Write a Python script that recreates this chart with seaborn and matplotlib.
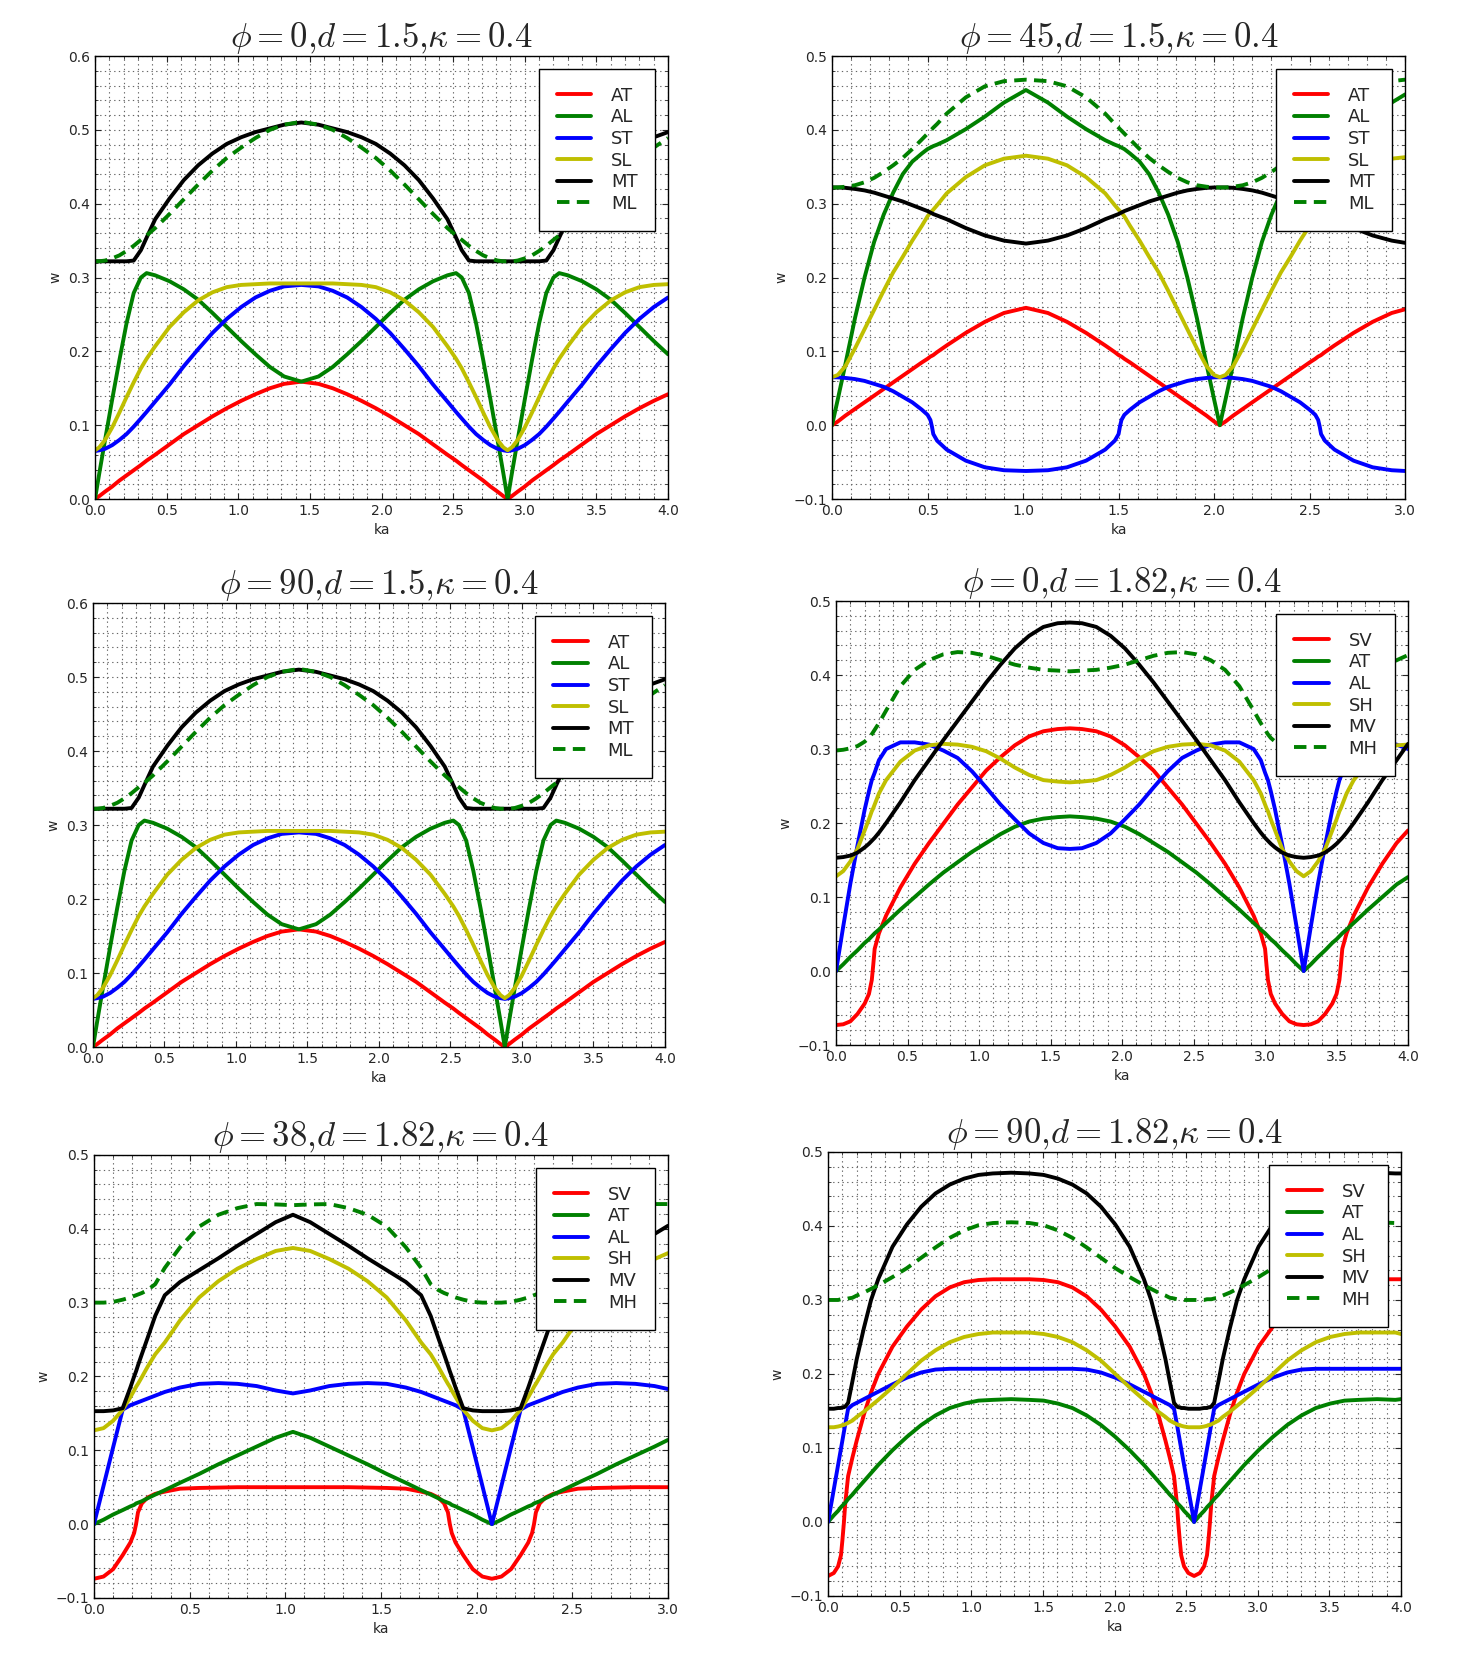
import matplotlib
matplotlib.use("Agg")
import matplotlib.pyplot as plt
from matplotlib.ticker import MultipleLocator
import seaborn as sns

# ---- d = 1.5, kappa = 0.4 (phi = 0 and phi = 90 give the same branches) ----
ka_d15 = [0.0, 0.03, 0.07, 0.12, 0.17, 0.22, 0.27, 0.32, 0.36, 0.42, 0.52, 0.62, 0.72, 0.82, 0.92, 1.02, 1.12, 1.22, 1.32, 1.44,
          1.56, 1.66, 1.76, 1.86, 1.96, 2.06, 2.16, 2.26, 2.36, 2.46, 2.52, 2.56, 2.61, 2.66, 2.71, 2.76, 2.81, 2.85, 2.88,
          2.91, 2.95, 3.0, 3.05, 3.1, 3.15, 3.2, 3.24, 3.3, 3.4, 3.5, 3.6, 3.7, 3.8, 3.9, 4.0]
at_d15 = [0.0, 0.004, 0.01, 0.017, 0.025, 0.032, 0.039, 0.046, 0.052, 0.06, 0.074, 0.088, 0.1, 0.112, 0.123, 0.133, 0.142, 0.15, 0.156, 0.159,
          0.156, 0.15, 0.142, 0.133, 0.123, 0.112, 0.1, 0.088, 0.074, 0.06, 0.052, 0.046, 0.039, 0.032, 0.025, 0.017, 0.01, 0.004, 0.0,
          0.004, 0.01, 0.017, 0.025, 0.032, 0.039, 0.046, 0.052, 0.06, 0.074, 0.088, 0.1, 0.112, 0.123, 0.133, 0.142]
al_d15 = [0.0, 0.035, 0.08, 0.135, 0.188, 0.238, 0.279, 0.3, 0.306, 0.303, 0.295, 0.284, 0.27, 0.252, 0.233, 0.214, 0.196, 0.179, 0.166, 0.159,
          0.166, 0.179, 0.196, 0.214, 0.233, 0.252, 0.27, 0.284, 0.295, 0.303, 0.306, 0.3, 0.279, 0.238, 0.188, 0.135, 0.08, 0.035, 0.0,
          0.035, 0.08, 0.135, 0.188, 0.238, 0.279, 0.3, 0.306, 0.303, 0.295, 0.284, 0.27, 0.252, 0.233, 0.214, 0.196]
st_d15 = [0.065, 0.066, 0.068, 0.073, 0.08, 0.088, 0.098, 0.109, 0.118, 0.132, 0.155, 0.18, 0.203, 0.225, 0.244, 0.26, 0.273, 0.282, 0.288, 0.29,
          0.288, 0.282, 0.273, 0.26, 0.244, 0.225, 0.203, 0.18, 0.155, 0.132, 0.118, 0.109, 0.098, 0.088, 0.08, 0.073, 0.068, 0.066, 0.065,
          0.066, 0.068, 0.073, 0.08, 0.088, 0.098, 0.109, 0.118, 0.132, 0.155, 0.18, 0.203, 0.225, 0.244, 0.26, 0.273]
sl_d15 = [0.066, 0.07, 0.08, 0.097, 0.117, 0.138, 0.158, 0.177, 0.19, 0.207, 0.233, 0.253, 0.269, 0.28, 0.287, 0.29, 0.291, 0.292, 0.292, 0.292,
          0.292, 0.292, 0.291, 0.29, 0.287, 0.28, 0.269, 0.253, 0.233, 0.207, 0.19, 0.177, 0.158, 0.138, 0.117, 0.097, 0.08, 0.07, 0.066,
          0.07, 0.08, 0.097, 0.117, 0.138, 0.158, 0.177, 0.19, 0.207, 0.233, 0.253, 0.269, 0.28, 0.287, 0.29, 0.291]
mt_d15 = [0.322, 0.322, 0.322, 0.322, 0.322, 0.322, 0.323, 0.337, 0.354, 0.379, 0.407, 0.432, 0.452, 0.468, 0.481, 0.49, 0.497, 0.502, 0.507, 0.51,
          0.507, 0.502, 0.497, 0.49, 0.481, 0.468, 0.452, 0.432, 0.407, 0.379, 0.354, 0.337, 0.323, 0.322, 0.322, 0.322, 0.322, 0.322, 0.322,
          0.322, 0.322, 0.322, 0.322, 0.322, 0.323, 0.337, 0.354, 0.379, 0.407, 0.432, 0.452, 0.468, 0.481, 0.49, 0.497]
ml_d15 = [0.322, 0.322, 0.323, 0.326, 0.33, 0.336, 0.343, 0.351, 0.357, 0.367, 0.386, 0.406, 0.426, 0.445, 0.462, 0.476, 0.489, 0.5, 0.507, 0.511,
          0.507, 0.5, 0.489, 0.476, 0.462, 0.445, 0.426, 0.406, 0.386, 0.367, 0.357, 0.351, 0.343, 0.336, 0.33, 0.326, 0.323, 0.322, 0.322,
          0.322, 0.323, 0.326, 0.33, 0.336, 0.343, 0.351, 0.357, 0.367, 0.386, 0.406, 0.426, 0.445, 0.462, 0.476, 0.489]

# ---- phi = 45, d = 1.5 ----
ka_p45 = [0.0, 0.03, 0.07, 0.12, 0.17, 0.22, 0.27, 0.32, 0.37, 0.42, 0.47, 0.5, 0.515, 0.523, 0.53, 0.55, 0.6, 0.7, 0.8, 0.9, 1.015,
          1.13, 1.23, 1.33, 1.43, 1.48, 1.5, 1.507, 1.515, 1.53, 1.56, 1.61, 1.66, 1.71, 1.76, 1.81, 1.86, 1.91, 1.96, 2.0, 2.03,
          2.06, 2.1, 2.15, 2.2, 2.25, 2.3, 2.35, 2.4, 2.45, 2.5, 2.53, 2.545, 2.553, 2.56, 2.58, 2.63, 2.73, 2.83, 2.93, 3.0]
at_p45 = [0.0, 0.005, 0.013, 0.022, 0.031, 0.04, 0.049, 0.058, 0.067, 0.076, 0.085, 0.09, 0.093, 0.094, 0.095, 0.099, 0.108, 0.125, 0.14, 0.152, 0.159,
          0.152, 0.14, 0.125, 0.108, 0.099, 0.095, 0.094, 0.093, 0.09, 0.085, 0.076, 0.067, 0.058, 0.049, 0.04, 0.031, 0.022, 0.013, 0.005, 0.0,
          0.005, 0.013, 0.022, 0.031, 0.04, 0.049, 0.058, 0.067, 0.076, 0.085, 0.09, 0.093, 0.094, 0.095, 0.099, 0.108, 0.125, 0.14, 0.152, 0.157]
al_p45 = [0.0, 0.035, 0.083, 0.145, 0.2, 0.248, 0.285, 0.315, 0.34, 0.357, 0.368, 0.374, 0.376, 0.377, 0.378, 0.38, 0.386, 0.401, 0.418, 0.437, 0.454,
          0.437, 0.418, 0.401, 0.386, 0.38, 0.378, 0.377, 0.376, 0.374, 0.368, 0.357, 0.34, 0.315, 0.285, 0.248, 0.2, 0.145, 0.083, 0.035, 0.0,
          0.035, 0.083, 0.145, 0.2, 0.248, 0.285, 0.315, 0.34, 0.357, 0.368, 0.374, 0.376, 0.377, 0.378, 0.38, 0.386, 0.401, 0.418, 0.437, 0.448]
st_p45 = [0.065, 0.0648, 0.064, 0.0625, 0.06, 0.056, 0.052, 0.046, 0.0385, 0.031, 0.021, 0.014, 0.007, -0.002, -0.012, -0.021, -0.033, -0.048, -0.057, -0.061, -0.062,
          -0.061, -0.057, -0.048, -0.033, -0.021, -0.012, -0.002, 0.007, 0.014, 0.021, 0.031, 0.0385, 0.046, 0.052, 0.056, 0.06, 0.0625, 0.064, 0.0648, 0.065,
          0.0648, 0.064, 0.0625, 0.06, 0.056, 0.052, 0.046, 0.0385, 0.031, 0.021, 0.014, 0.007, -0.002, -0.012, -0.021, -0.033, -0.048, -0.057, -0.061, -0.062]
sl_p45 = [0.065, 0.068, 0.08, 0.104, 0.13, 0.156, 0.182, 0.207, 0.228, 0.25, 0.27, 0.283, 0.288, 0.29, 0.292, 0.298, 0.314, 0.336, 0.352, 0.361, 0.365,
          0.361, 0.352, 0.336, 0.314, 0.298, 0.292, 0.29, 0.288, 0.283, 0.27, 0.25, 0.228, 0.207, 0.182, 0.156, 0.13, 0.104, 0.08, 0.068, 0.065,
          0.068, 0.08, 0.104, 0.13, 0.156, 0.182, 0.207, 0.228, 0.25, 0.27, 0.283, 0.288, 0.29, 0.292, 0.298, 0.314, 0.336, 0.352, 0.361, 0.363]
mt_p45 = [0.322, 0.322, 0.3215, 0.32, 0.318, 0.315, 0.311, 0.307, 0.303, 0.298, 0.293, 0.29, 0.288, 0.287, 0.286, 0.284, 0.279, 0.267, 0.257, 0.25, 0.246,
          0.25, 0.257, 0.267, 0.279, 0.284, 0.286, 0.287, 0.288, 0.29, 0.293, 0.298, 0.303, 0.307, 0.311, 0.315, 0.318, 0.32, 0.3215, 0.322, 0.322,
          0.322, 0.3215, 0.32, 0.318, 0.315, 0.311, 0.307, 0.303, 0.298, 0.293, 0.29, 0.288, 0.287, 0.286, 0.284, 0.279, 0.267, 0.257, 0.25, 0.247]
ml_p45 = [0.322, 0.322, 0.323, 0.325, 0.329, 0.335, 0.343, 0.352, 0.362, 0.374, 0.387, 0.395, 0.399, 0.401, 0.403, 0.408, 0.422, 0.444, 0.459, 0.466, 0.468,
          0.466, 0.459, 0.444, 0.422, 0.408, 0.403, 0.401, 0.399, 0.395, 0.387, 0.374, 0.362, 0.352, 0.343, 0.335, 0.329, 0.325, 0.323, 0.322, 0.322,
          0.322, 0.323, 0.325, 0.329, 0.335, 0.343, 0.352, 0.362, 0.374, 0.387, 0.395, 0.399, 0.401, 0.403, 0.408, 0.422, 0.444, 0.459, 0.466, 0.468]

# ---- phi = 0, d = 1.82 ----
ka_p0 = [0.0, 0.05, 0.1, 0.15, 0.2, 0.23, 0.25, 0.26, 0.27, 0.3, 0.35, 0.45, 0.55, 0.65, 0.75, 0.85, 0.95, 1.05, 1.15, 1.25, 1.35, 1.45, 1.55, 1.635,
         1.72, 1.82, 1.92, 2.02, 2.12, 2.22, 2.32, 2.42, 2.52, 2.62, 2.72, 2.82, 2.92, 2.97, 3.0, 3.01, 3.02, 3.04, 3.07, 3.12, 3.17, 3.22, 3.27,
         3.32, 3.37, 3.42, 3.47, 3.5, 3.52, 3.53, 3.54, 3.57, 3.62, 3.72, 3.82, 3.92, 4.0]
sv_p0 = [-0.073, -0.072, -0.068, -0.058, -0.044, -0.031, -0.012, 0.008, 0.03, 0.051, 0.075, 0.113, 0.145, 0.173, 0.199, 0.225, 0.248, 0.271, 0.289, 0.305, 0.317, 0.324, 0.327, 0.328,
         0.327, 0.324, 0.317, 0.305, 0.289, 0.271, 0.248, 0.225, 0.199, 0.173, 0.145, 0.113, 0.075, 0.051, 0.03, 0.008, -0.012, -0.031, -0.044, -0.058, -0.068, -0.072, -0.073,
         -0.072, -0.068, -0.058, -0.044, -0.031, -0.012, 0.008, 0.03, 0.051, 0.075, 0.113, 0.145, 0.173, 0.19]
at_p0 = [0.0, 0.009, 0.019, 0.028, 0.038, 0.043, 0.047, 0.049, 0.051, 0.056, 0.065, 0.083, 0.1, 0.117, 0.133, 0.147, 0.161, 0.173, 0.185, 0.195, 0.202, 0.206, 0.208, 0.209,
         0.208, 0.206, 0.202, 0.195, 0.185, 0.173, 0.161, 0.147, 0.133, 0.117, 0.1, 0.083, 0.065, 0.056, 0.051, 0.049, 0.047, 0.043, 0.038, 0.028, 0.019, 0.009, 0.0,
         0.009, 0.019, 0.028, 0.038, 0.043, 0.047, 0.049, 0.051, 0.056, 0.065, 0.083, 0.1, 0.117, 0.127]
al_p0 = [0.0, 0.06, 0.118, 0.17, 0.218, 0.243, 0.258, 0.263, 0.268, 0.285, 0.3, 0.309, 0.309, 0.306, 0.298, 0.288, 0.27, 0.248, 0.225, 0.205, 0.186, 0.173, 0.166, 0.165,
         0.166, 0.173, 0.186, 0.205, 0.225, 0.248, 0.27, 0.288, 0.298, 0.306, 0.309, 0.309, 0.3, 0.285, 0.268, 0.263, 0.258, 0.243, 0.218, 0.17, 0.118, 0.06, 0.0,
         0.06, 0.118, 0.17, 0.218, 0.243, 0.258, 0.263, 0.268, 0.285, 0.3, 0.309, 0.309, 0.306, 0.3]
sh_p0 = [0.128, 0.135, 0.148, 0.165, 0.19, 0.205, 0.216, 0.22, 0.225, 0.24, 0.258, 0.283, 0.298, 0.305, 0.307, 0.306, 0.303, 0.297, 0.287, 0.275, 0.265, 0.258, 0.256, 0.255,
         0.256, 0.258, 0.265, 0.275, 0.287, 0.297, 0.303, 0.306, 0.307, 0.305, 0.298, 0.283, 0.258, 0.24, 0.225, 0.22, 0.216, 0.205, 0.19, 0.165, 0.148, 0.135, 0.128,
         0.135, 0.148, 0.165, 0.19, 0.205, 0.216, 0.22, 0.225, 0.24, 0.258, 0.283, 0.298, 0.305, 0.306]
mv_p0 = [0.153, 0.154, 0.156, 0.16, 0.167, 0.172, 0.176, 0.178, 0.18, 0.187, 0.2, 0.228, 0.258, 0.285, 0.312, 0.338, 0.364, 0.39, 0.414, 0.436, 0.453, 0.465, 0.47, 0.471,
         0.47, 0.465, 0.453, 0.436, 0.414, 0.39, 0.364, 0.338, 0.312, 0.285, 0.258, 0.228, 0.2, 0.187, 0.18, 0.178, 0.176, 0.172, 0.167, 0.16, 0.156, 0.154, 0.153,
         0.154, 0.156, 0.16, 0.167, 0.172, 0.176, 0.178, 0.18, 0.187, 0.2, 0.228, 0.258, 0.285, 0.307]
mh_p0 = [0.298, 0.299, 0.301, 0.304, 0.31, 0.315, 0.32, 0.323, 0.326, 0.335, 0.352, 0.385, 0.407, 0.42, 0.428, 0.431, 0.43, 0.426, 0.42, 0.414, 0.41, 0.407, 0.406, 0.405,
         0.406, 0.407, 0.41, 0.414, 0.42, 0.426, 0.43, 0.431, 0.428, 0.42, 0.407, 0.385, 0.352, 0.335, 0.326, 0.323, 0.32, 0.315, 0.31, 0.304, 0.301, 0.299, 0.298,
         0.299, 0.301, 0.304, 0.31, 0.315, 0.32, 0.323, 0.326, 0.335, 0.352, 0.385, 0.407, 0.42, 0.427]

# ---- phi = 38, d = 1.82 ----
ka_p38 = [0.0, 0.05, 0.1, 0.15, 0.19, 0.21, 0.22, 0.23, 0.25, 0.28, 0.32, 0.37, 0.45, 0.55, 0.65, 0.75, 0.85, 0.95, 1.04,
          1.13, 1.23, 1.33, 1.43, 1.53, 1.63, 1.71, 1.76, 1.8, 1.83, 1.85, 1.86, 1.87, 1.89, 1.93, 1.98, 2.03, 2.08,
          2.13, 2.18, 2.23, 2.27, 2.29, 2.3, 2.31, 2.33, 2.36, 2.4, 2.45, 2.53, 2.63, 2.73, 2.83, 2.93, 3.0]
sv_p38 = [-0.074, -0.071, -0.061, -0.042, -0.025, -0.012, 0.0, 0.016, 0.028, 0.036, 0.041, 0.044, 0.048, 0.049, 0.0495, 0.05, 0.05, 0.05, 0.05,
          0.05, 0.05, 0.05, 0.0495, 0.049, 0.048, 0.044, 0.041, 0.036, 0.028, 0.016, 0.0, -0.012, -0.025, -0.042, -0.061, -0.071, -0.074,
          -0.071, -0.061, -0.042, -0.025, -0.012, 0.0, 0.016, 0.028, 0.036, 0.041, 0.044, 0.048, 0.049, 0.0495, 0.05, 0.05, 0.05]
at_p38 = [0.0, 0.006, 0.013, 0.019, 0.024, 0.026, 0.028, 0.029, 0.031, 0.035, 0.04, 0.046, 0.056, 0.068, 0.081, 0.093, 0.105, 0.117, 0.125,
          0.117, 0.105, 0.093, 0.081, 0.068, 0.056, 0.046, 0.04, 0.035, 0.031, 0.029, 0.028, 0.026, 0.024, 0.019, 0.013, 0.006, 0.0,
          0.006, 0.013, 0.019, 0.024, 0.026, 0.028, 0.029, 0.031, 0.035, 0.04, 0.046, 0.056, 0.068, 0.081, 0.093, 0.105, 0.114]
al_p38 = [0.0, 0.052, 0.104, 0.155, 0.161, 0.163, 0.164, 0.165, 0.167, 0.17, 0.174, 0.179, 0.185, 0.19, 0.191, 0.19, 0.187, 0.181, 0.177,
          0.181, 0.187, 0.19, 0.191, 0.19, 0.185, 0.179, 0.174, 0.17, 0.167, 0.165, 0.164, 0.163, 0.161, 0.155, 0.104, 0.052, 0.0,
          0.052, 0.104, 0.155, 0.161, 0.163, 0.164, 0.165, 0.167, 0.17, 0.174, 0.179, 0.185, 0.19, 0.191, 0.19, 0.187, 0.183]
sh_p38 = [0.127, 0.13, 0.14, 0.155, 0.172, 0.181, 0.186, 0.19, 0.199, 0.213, 0.23, 0.246, 0.276, 0.307, 0.329, 0.346, 0.359, 0.37, 0.374,
          0.37, 0.359, 0.346, 0.329, 0.307, 0.276, 0.246, 0.23, 0.213, 0.199, 0.19, 0.186, 0.181, 0.172, 0.155, 0.14, 0.13, 0.127,
          0.13, 0.14, 0.155, 0.172, 0.181, 0.186, 0.19, 0.199, 0.213, 0.23, 0.246, 0.276, 0.307, 0.329, 0.346, 0.359, 0.367]
mv_p38 = [0.153, 0.153, 0.154, 0.157, 0.185, 0.2, 0.207, 0.215, 0.23, 0.252, 0.282, 0.31, 0.328, 0.344, 0.36, 0.377, 0.393, 0.409, 0.419,
          0.409, 0.393, 0.377, 0.36, 0.344, 0.328, 0.31, 0.282, 0.252, 0.23, 0.215, 0.207, 0.2, 0.185, 0.157, 0.154, 0.153, 0.153,
          0.153, 0.154, 0.157, 0.185, 0.2, 0.207, 0.215, 0.23, 0.252, 0.282, 0.31, 0.328, 0.344, 0.36, 0.377, 0.393, 0.404]
mh_p38 = [0.3, 0.3, 0.301, 0.304, 0.307, 0.309, 0.31, 0.311, 0.313, 0.317, 0.325, 0.347, 0.375, 0.403, 0.419, 0.428, 0.4335, 0.433, 0.432,
          0.433, 0.4335, 0.428, 0.419, 0.403, 0.375, 0.347, 0.325, 0.317, 0.313, 0.311, 0.31, 0.309, 0.307, 0.304, 0.301, 0.3, 0.3,
          0.3, 0.301, 0.304, 0.307, 0.309, 0.31, 0.311, 0.313, 0.317, 0.325, 0.347, 0.375, 0.403, 0.419, 0.428, 0.4335, 0.4335]

# ---- phi = 90, d = 1.82 ----
ka_p90 = [0.0, 0.04, 0.07, 0.09, 0.1, 0.11, 0.12, 0.14, 0.17, 0.2, 0.25, 0.3, 0.35, 0.45, 0.55, 0.65, 0.75, 0.85, 0.95, 1.05, 1.15, 1.278,
          1.405, 1.505, 1.605, 1.705, 1.805, 1.905, 2.005, 2.105, 2.205, 2.255, 2.305, 2.355, 2.385, 2.415, 2.435, 2.445, 2.455, 2.465, 2.485, 2.515, 2.555,
          2.595, 2.625, 2.645, 2.655, 2.665, 2.675, 2.695, 2.725, 2.755, 2.805, 2.855, 2.905, 3.005, 3.105, 3.205, 3.305, 3.405, 3.505, 3.605, 3.705, 3.833,
          3.96, 4.0]
sv_p90 = [-0.073, -0.069, -0.06, -0.045, -0.025, -0.002, 0.025, 0.062, 0.087, 0.11, 0.145, 0.175, 0.2, 0.237, 0.264, 0.287, 0.305, 0.317, 0.324, 0.327, 0.328, 0.328,
          0.328, 0.327, 0.324, 0.317, 0.305, 0.287, 0.264, 0.237, 0.2, 0.175, 0.145, 0.11, 0.087, 0.062, 0.025, -0.002, -0.025, -0.045, -0.06, -0.069, -0.073,
          -0.069, -0.06, -0.045, -0.025, -0.002, 0.025, 0.062, 0.087, 0.11, 0.145, 0.175, 0.2, 0.237, 0.264, 0.287, 0.305, 0.317, 0.324, 0.327, 0.328, 0.328,
          0.328, 0.328]
at_p90 = [0.0, 0.009, 0.015, 0.02, 0.022, 0.024, 0.026, 0.031, 0.037, 0.044, 0.055, 0.066, 0.077, 0.097, 0.115, 0.131, 0.144, 0.154, 0.16, 0.164, 0.165, 0.166,
          0.165, 0.164, 0.16, 0.154, 0.144, 0.131, 0.115, 0.097, 0.077, 0.066, 0.055, 0.044, 0.037, 0.031, 0.026, 0.024, 0.022, 0.02, 0.015, 0.009, 0.0,
          0.009, 0.015, 0.02, 0.022, 0.024, 0.026, 0.031, 0.037, 0.044, 0.055, 0.066, 0.077, 0.097, 0.115, 0.131, 0.144, 0.154, 0.16, 0.164, 0.165, 0.166,
          0.165, 0.166]
al_p90 = [0.0, 0.044, 0.077, 0.099, 0.11, 0.121, 0.132, 0.153, 0.158, 0.161, 0.166, 0.171, 0.176, 0.186, 0.195, 0.202, 0.206, 0.207, 0.207, 0.207, 0.207, 0.207,
          0.207, 0.207, 0.207, 0.207, 0.206, 0.202, 0.195, 0.186, 0.176, 0.171, 0.166, 0.161, 0.158, 0.153, 0.132, 0.121, 0.11, 0.099, 0.077, 0.044, 0.0,
          0.044, 0.077, 0.099, 0.11, 0.121, 0.132, 0.153, 0.158, 0.161, 0.166, 0.171, 0.176, 0.186, 0.195, 0.202, 0.206, 0.207, 0.207, 0.207, 0.207, 0.207,
          0.207, 0.207]
sh_p90 = [0.128, 0.128, 0.129, 0.13, 0.131, 0.131, 0.132, 0.134, 0.137, 0.142, 0.149, 0.157, 0.165, 0.182, 0.2, 0.218, 0.232, 0.243, 0.25, 0.254, 0.256, 0.256,
          0.256, 0.254, 0.25, 0.243, 0.232, 0.218, 0.2, 0.182, 0.165, 0.157, 0.149, 0.142, 0.137, 0.134, 0.132, 0.131, 0.131, 0.13, 0.129, 0.128, 0.128,
          0.128, 0.129, 0.13, 0.131, 0.131, 0.132, 0.134, 0.137, 0.142, 0.149, 0.157, 0.165, 0.182, 0.2, 0.218, 0.232, 0.243, 0.25, 0.254, 0.256, 0.256,
          0.256, 0.254]
mv_p90 = [0.153, 0.153, 0.154, 0.154, 0.155, 0.155, 0.156, 0.161, 0.19, 0.22, 0.262, 0.3, 0.328, 0.372, 0.402, 0.426, 0.444, 0.456, 0.464, 0.469, 0.471, 0.472,
          0.471, 0.469, 0.464, 0.456, 0.444, 0.426, 0.402, 0.372, 0.328, 0.3, 0.262, 0.22, 0.19, 0.161, 0.156, 0.155, 0.155, 0.154, 0.154, 0.153, 0.153,
          0.153, 0.154, 0.154, 0.155, 0.155, 0.156, 0.161, 0.19, 0.22, 0.262, 0.3, 0.328, 0.372, 0.402, 0.426, 0.444, 0.456, 0.464, 0.469, 0.471, 0.472,
          0.471, 0.471]
mh_p90 = [0.3, 0.3, 0.3, 0.301, 0.301, 0.301, 0.301, 0.302, 0.303, 0.306, 0.31, 0.315, 0.32, 0.331, 0.343, 0.357, 0.371, 0.384, 0.394, 0.401, 0.404, 0.405,
          0.404, 0.401, 0.394, 0.384, 0.371, 0.357, 0.343, 0.331, 0.32, 0.315, 0.31, 0.306, 0.303, 0.302, 0.301, 0.301, 0.301, 0.301, 0.3, 0.3, 0.3,
          0.3, 0.3, 0.301, 0.301, 0.301, 0.301, 0.302, 0.303, 0.306, 0.31, 0.315, 0.32, 0.331, 0.343, 0.357, 0.371, 0.384, 0.394, 0.401, 0.404, 0.405,
          0.404, 0.405]

labels_d15 = ["AT", "AL", "ST", "SL", "MT", "ML"]
labels_d182 = ["SV", "AT", "AL", "SH", "MV", "MH"]
# "{,}" keeps the commas tight, as in the original figure
titles = [r"$\phi=0{,}d=1.5{,}\kappa=0.4$", r"$\phi=45{,}d=1.5{,}\kappa=0.4$",
          r"$\phi=90{,}d=1.5{,}\kappa=0.4$", r"$\phi=0{,}d=1.82{,}\kappa=0.4$",
          r"$\phi=38{,}d=1.82{,}\kappa=0.4$", r"$\phi=90{,}d=1.82{,}\kappa=0.4$"]

sns.set_style("ticks", {"xtick.direction": "in", "ytick.direction": "in"})
plt.rcParams["font.family"] = ["DejaVu Sans"]
plt.rcParams["mathtext.fontset"] = "cm"

colors = ["#ff0000", "#008000", "#0000ff", "#bfbf00", "#000000", "#008000"]


def draw_panel(ax, ka, series, labels, title, xmax, ymin, ymax):
    for i, y in enumerate(series):
        sns.lineplot(x=ka, y=y, ax=ax, color=colors[i], linewidth=2.8,
                     label=labels[i], sort=False, estimator=None)
    # last branch is the dashed one
    ax.lines[-1].set_dashes((3.2, 1.9))

    ax.set_xlim(0, xmax)
    ax.set_ylim(ymin, ymax)
    ax.xaxis.set_major_locator(MultipleLocator(0.5))
    ax.xaxis.set_minor_locator(MultipleLocator(0.1))
    ax.yaxis.set_major_locator(MultipleLocator(0.1))
    ax.yaxis.set_minor_locator(MultipleLocator(0.02))
    ax.grid(which="both", color="0.4", linestyle=(0, (1.2, 3.0)), linewidth=0.8)
    ax.tick_params(which="both", direction="in", top=True, right=True, labelsize=10)
    ax.tick_params(which="major", length=4)
    ax.tick_params(which="minor", length=2)
    for sp in ax.spines.values():
        sp.set_color("black")
        sp.set_linewidth(1.0)

    ax.set_title(title, fontsize=25, pad=6)
    ax.set_xlabel("ka", fontsize=10)
    ax.set_ylabel("w", fontsize=10)

    leg = ax.legend(loc="upper right", fontsize=13, frameon=True, fancybox=False,
                    edgecolor="black", framealpha=1, borderpad=1.0,
                    labelspacing=0.2, handlelength=1.9, handletextpad=1.1,
                    borderaxespad=0.7)
    leg.get_frame().set_linewidth(1.0)


fig = plt.figure(figsize=(14.8, 16.53), dpi=100)

rects = [
    [0.0642, 0.6981, 0.3872, 0.2680],
    [0.5622, 0.6981, 0.3872, 0.2680],
    [0.0628, 0.3666, 0.3865, 0.2686],
    [0.5649, 0.3678, 0.3865, 0.2686],
    [0.0635, 0.0333, 0.3878, 0.2680],
    [0.5595, 0.0345, 0.3872, 0.2686],
]
axes = [fig.add_axes(r) for r in rects]

draw_panel(axes[0], ka_d15, [at_d15, al_d15, st_d15, sl_d15, mt_d15, ml_d15],
           labels_d15, titles[0], 4.0, 0.0, 0.6)
draw_panel(axes[1], ka_p45, [at_p45, al_p45, st_p45, sl_p45, mt_p45, ml_p45],
           labels_d15, titles[1], 3.0, -0.1, 0.5)
draw_panel(axes[2], ka_d15, [at_d15, al_d15, st_d15, sl_d15, mt_d15, ml_d15],
           labels_d15, titles[2], 4.0, 0.0, 0.6)
draw_panel(axes[3], ka_p0, [sv_p0, at_p0, al_p0, sh_p0, mv_p0, mh_p0],
           labels_d182, titles[3], 4.0, -0.1, 0.5)
draw_panel(axes[4], ka_p38, [sv_p38, at_p38, al_p38, sh_p38, mv_p38, mh_p38],
           labels_d182, titles[4], 3.0, -0.1, 0.5)
draw_panel(axes[5], ka_p90, [sv_p90, at_p90, al_p90, sh_p90, mv_p90, mh_p90],
           labels_d182, titles[5], 4.0, -0.1, 0.5)

fig.savefig("out.png", dpi=100)
plt.close(fig)
